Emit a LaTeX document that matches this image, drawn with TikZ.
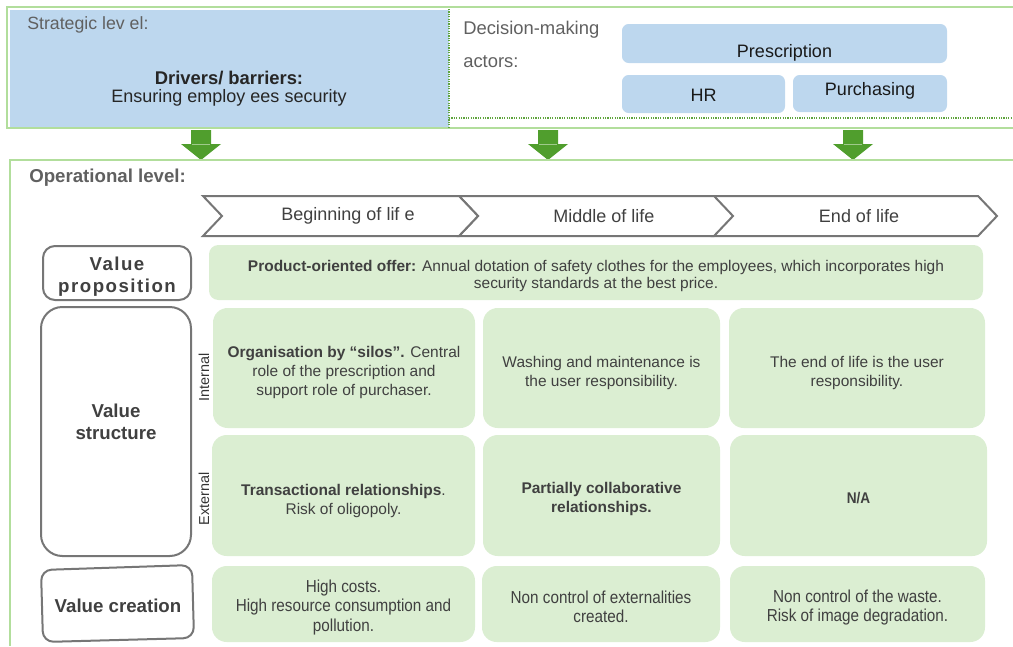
\documentclass[tikz,border=0pt]{standalone}
\usepackage{fontspec}
\setmainfont{Liberation Sans}
\newfontfamily\narrowfont[FakeStretch=0.88]{Liberation Sans}
\newfontfamily\spacedfont[LetterSpace=8]{Liberation Sans}
\definecolor{frameGreen}{RGB}{178,222,156}
\definecolor{dotGreen}{RGB}{96,165,62}
\definecolor{arrowGreen}{RGB}{80,158,45}
\definecolor{blueFill}{RGB}{189,215,238}
\definecolor{cellGreen}{RGB}{219,238,210}
\definecolor{labelGray}{RGB}{96,96,96}
\definecolor{textDark}{RGB}{64,64,64}
\definecolor{edgeGray}{RGB}{118,118,118}
% box: name, x1, y1, x2, y2, style, text, text shift
\newcommand{\pbox}[8]{%
  \node[#6, minimum width={(#4-#2)*0.75pt}, minimum height={(#5-#3)*0.75pt}] (#1) at ({(#2+#4)/2},{(#3+#5)/2}) {};
  \node[#6, fill=none, draw=none, minimum width=0pt, minimum height=0pt, yshift=#8] (#1-text) at (#1.center) {#7};}
\newcommand{\chev}[2]{\draw[chevline] (#1,196) -- (#2,196) -- (#2+19,216) -- (#2,236) -- (#1,236) -- (#1+19,216) -- cycle;}
\newcommand{\garrow}[1]{%
  \fill[arrowGreen] (#1-10,130) -- (#1+10,130) -- (#1+10,144) -- (#1+20,144) -- (#1,160) -- (#1-20,144) -- (#1-10,144) -- cycle;
  \draw[arrowGreen!55!white, line width=0.5pt] (#1-9,144) -- (#1+9,144);}
\begin{document}
\begin{tikzpicture}[x=0.75pt,y=-0.75pt,
  frame/.style={draw=frameGreen, line width=1.5pt},
  dotline/.style={draw=dotGreen, line width=1pt, dash pattern=on 0.9pt off 0.9pt},
  bluebox/.style={rectangle, fill=blueFill, rounded corners=5pt, inner sep=0pt, font=\fontsize{13.5}{16}\selectfont, text=black!90},
  graytext/.style={font=\fontsize{13.3}{16}\selectfont, text=labelGray, inner sep=0pt},
  cell/.style={rectangle, fill=cellGreen, rounded corners=11pt, inner sep=0pt, align=center, text=textDark, font=\fontsize{11.6}{14}\selectfont},
  vcfont/.style={font=\narrowfont\fontsize{13}{14.5}\selectfont},
  labelline/.style={draw=edgeGray, line width=1.5pt, fill=white},
  label/.style={rectangle, labelline, rounded corners=9pt, inner sep=0pt},
  labeltext/.style={align=center, font=\bfseries\fontsize{14}{16.5}\selectfont, text=textDark, inner sep=0pt},
  chevline/.style={draw=edgeGray, line width=1.5pt, fill=white, line join=miter},
  chevtext/.style={font=\fontsize{13.5}{16}\selectfont, text=textDark, inner sep=0pt},
  side/.style={rotate=90, font=\fontsize{10.8}{12}\selectfont, text=black!80, inner sep=0pt}]
\useasboundingbox (0,0) rectangle (1013,646);
% ---------- strategic level ----------
\node[rectangle, fill=blueFill, inner sep=0pt, minimum width={439*0.75pt}, minimum height={117*0.75pt}] (strat) at (229.5,68.5) {};
\draw[frame] (1013,7) -- (7,7) -- (7,128) -- (1013,128);
\draw[dotline] (449,9) -- (449,127);
\draw[dotline] (449,118) -- (1013,118);
\node[graytext, anchor=west] (stl) at (27,25) {Strategic lev el:};
\node[font=\bfseries\fontsize{13.8}{16}\selectfont, text=black!85, inner sep=0pt] (drv) at (229,78) {Drivers/ barriers:};
\node[font=\fontsize{13.5}{16}\selectfont, text=black!85, inner sep=0pt] (ens) at (229,98) {Ensuring employ ees security};
\node[graytext, font=\fontsize{13.8}{16}\selectfont, anchor=west] (dm) at (463,30) {Decision-making};
\node[graytext, font=\fontsize{13.8}{16}\selectfont, anchor=west] (act) at (463,62) {actors:};
\pbox{presc}{622}{24}{947}{63}{bluebox}{Prescription}{-7pt}
\pbox{hr}{622}{75}{785}{113}{bluebox}{HR}{-1pt}
\pbox{purch}{793}{75}{947}{112}{bluebox}{Purchasing}{2pt}
% ---------- arrows ----------
\coordinate (a1) at (201,130);
\coordinate (a2) at (548,130);
\coordinate (a3) at (853,130);
\garrow{201}
\garrow{548}
\garrow{853}
% ---------- operational level ----------
\draw[frame] (1013,160) -- (10,160) -- (10,646);
\node[font=\bfseries\fontsize{14}{16}\selectfont, text=labelGray, inner sep=0pt, anchor=west] (opl) at (29,178) {Operational level:};
\chev{713}{978}
\chev{459}{714}
\chev{203}{459}
\node[chevtext] (bol) at (348,216) {Beginning of lif e};
\node[chevtext] (mol) at (604,216) {Middle of life};
\node[chevtext] (eol) at (859,216) {End of life};
% labels
\pbox{lvp}{43}{246}{191}{300}{label, labeltext, font=\spacedfont\bfseries\fontsize{14}{16.5}\selectfont}{Value\\proposition}{-3pt}
\pbox{lvs}{41}{307}{191}{556}{label, labeltext, rounded corners=16pt}{Value\\structure}{7pt}
\draw[labelline, rounded corners=8pt] (41,570) -- (192,565) -- (194,638) -- (43,642) -- cycle;
\node[labeltext] (lvct) at (118,606) {Value creation};
\node[side] (intl) at (204,377) {Internal};
\node[side] (extl) at (204,499) {External};
% cells
\pbox{vp}{209}{245}{983}{300}{cell, rounded corners=7pt, font=\fontsize{11.6}{12.8}\selectfont}{\textbf{Product-oriented offer:} Annual dotation of safety clothes for the employees, which incorporates high\\security standards at the best price.}{-2.5pt}
\pbox{i1}{213}{308}{475}{428}{cell}{\textbf{Organisation by “silos”.} Central\\role of the prescription and\\support role of purchaser.}{-3.3pt}
\pbox{i2}{483}{308}{720}{428}{cell}{Washing and maintenance is\\the user responsibility.}{-3.5pt}
\pbox{i3}{729}{308}{985}{428}{cell}{The end of life is the user\\responsibility.}{-3.5pt}
\pbox{e1}{212}{435}{475}{556}{cell}{\textbf{Transactional relationships}.\\Risk of oligopoly.}{-4pt}
\pbox{e2}{483}{435}{720}{556}{cell}{\textbf{Partially collaborative}\\\textbf{relationships.}}{-2.5pt}
\pbox{e3}{730}{435}{987}{556}{cell}{\narrowfont\bfseries N/A}{-2pt}
\pbox{c1}{212}{566}{475}{642}{cell, vcfont}{High costs.\\High resource consumption and\\pollution.}{-2.5pt}
\pbox{c2}{482}{566}{720}{642}{cell, vcfont}{Non control of externalities\\created.}{-2pt}
\pbox{c3}{730}{566}{985}{642}{cell, vcfont}{Non control of the waste.\\Risk of image degradation.}{-2.5pt}
\end{tikzpicture}
\end{document}
